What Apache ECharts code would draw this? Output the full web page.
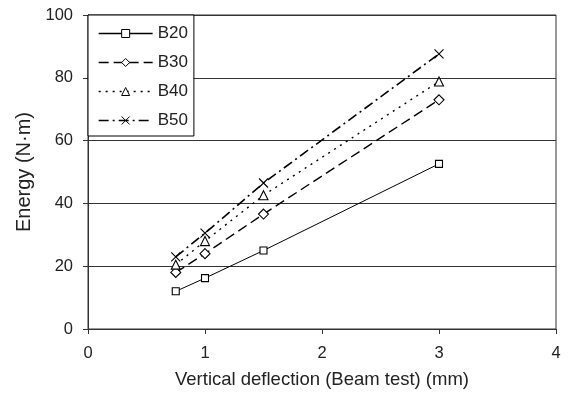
<!DOCTYPE html>
<html>
<head>
<meta charset="utf-8">
<script src="https://cdn.jsdelivr.net/npm/echarts@6/dist/echarts.min.js"></script>
<style>
  html, body { margin: 0; padding: 0; background: #fff; }
  #main { width: 571px; height: 396px; }
</style>
</head>
<body>
<div id="main"></div>
<script>
// deflection (mm) for every mix
var deflection = [0.75, 1, 1.5, 3];

var seriesNames = ['B20', 'B30', 'B40', 'B50'];
var energyB20 = [12, 16.2, 25, 52.6];
var energyB30 = [18, 24, 36.6, 73];
var energyB40 = [20.5, 28, 42.6, 78.8];
var energyB50 = [23, 30.5, 46.5, 87.6];

var xTicks = [0, 1, 2, 3, 4];
var yTicks = [0, 20, 40, 60, 80, 100];

function pairs(xs, ys) {
  return xs.map(function (x, i) { return [x, ys[i]]; });
}

var crossPath = 'path://M0,0L10,10M10,0L0,10';

var lineDefs = [
  { data: energyB20, symbol: 'rect', size: 7, type: 'solid', width: 1 },
  { data: energyB30, symbol: 'diamond', size: 10, type: [10, 5], width: 1.4 },
  { data: energyB40, symbol: 'triangle', size: 9, type: [2, 5], width: 1.4 },
  { data: energyB50, symbol: crossPath, size: 9, type: [10, 4, 2, 4], width: 1.6 }
];

var chart = echarts.init(document.getElementById('main'));

var series = lineDefs.map(function (d, i) {
  return {
    name: seriesNames[i],
    type: 'line',
    data: pairs(deflection, d.data),
    symbol: d.symbol,
    symbolSize: d.size,
    showAllSymbol: true,
    lineStyle: { color: '#000', width: d.width, type: d.type },
    itemStyle: { color: '#fff', borderColor: '#000', borderWidth: 1.1 },
    emphasis: { disabled: true },
    animation: false
  };
});

var option = {
  backgroundColor: '#fff',
  textStyle: { fontFamily: 'Liberation Sans', color: '#222' },
  grid: {
    left: 88, right: 15, top: 15, bottom: 67,
    show: true, borderColor: '#333', borderWidth: 1
  },
  legend: {
    data: seriesNames,
    orient: 'vertical',
    left: 88, top: 15,
    itemWidth: 54, itemHeight: 10,
    itemGap: 12,
    padding: [10, 6, 7, 10],
    backgroundColor: '#fff',
    borderColor: '#000', borderWidth: 1,
    itemStyle: { color: '#fff', borderColor: '#000', borderWidth: 1 },
    lineStyle: { width: 1.3 },
    textStyle: { fontSize: 17, color: '#222', fontFamily: 'Liberation Sans' }
  },
  xAxis: {
    type: 'value',
    min: 0, max: 4, interval: 1,
    name: 'Vertical deflection (Beam test) (mm)',
    nameLocation: 'middle',
    nameGap: 41,
    nameTextStyle: { fontSize: 18.5, color: '#222' },
    axisLine: { lineStyle: { color: '#333', width: 1 } },
    axisTick: { inside: false, length: 5, lineStyle: { color: '#333' } },
    axisLabel: { fontSize: 16.5, color: '#222', margin: 16 },
    splitLine: { show: false }
  },
  yAxis: {
    type: 'value',
    min: 0, max: 100, interval: 20,
    name: 'Energy (N·m)',
    nameLocation: 'middle',
    nameGap: 54,
    nameTextStyle: { fontSize: 20, color: '#222' },
    axisLine: { show: true, lineStyle: { color: '#333', width: 1 } },
    axisTick: { show: true, inside: false, length: 5, lineStyle: { color: '#333' } },
    axisLabel: { fontSize: 16.5, color: '#222', margin: 15 },
    splitLine: { show: true, lineStyle: { color: '#333', width: 1 } }
  },
  series: series
};

chart.setOption(option);
</script>
</body>
</html>
